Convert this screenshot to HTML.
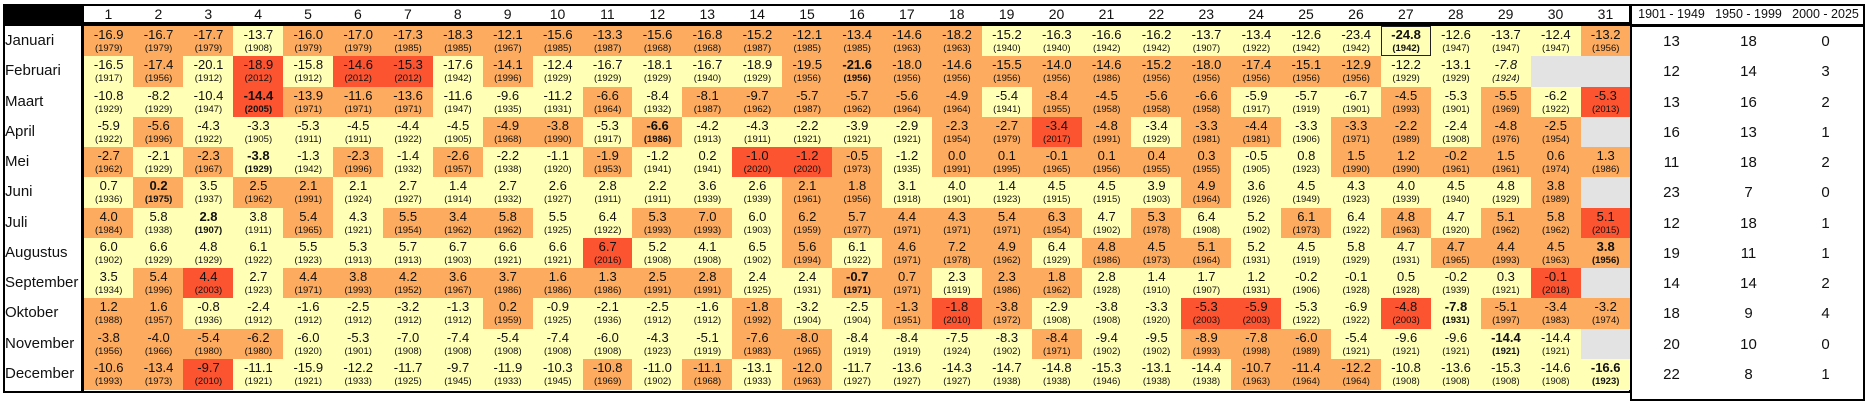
<!DOCTYPE html>
<html><head><meta charset="utf-8">
<style>
body{margin:0;width:1871px;height:408px;background:#fff;position:relative;overflow:hidden;font-family:"Liberation Sans",Arial,sans-serif;color:#111}
.c{position:absolute;box-sizing:border-box;text-align:center}
.v{position:absolute;left:0;right:0;top:2px;font-size:13px;line-height:14px}
.y{position:absolute;left:0;right:0;top:17px;font-size:9.5px;line-height:11px}
.lab{position:absolute;left:5px;font-size:15px}
.hd{position:absolute;top:5px;font-size:14px;text-align:center;line-height:18px;white-space:nowrap}
</style></head><body>
<div id="root"></div>
<script>
const months=["Januari","Februari","Maart","April","Mei","Juni","Juli","Augustus","September","Oktober","November","December"];
const values=[
[-16.9,-16.7,-17.7,-13.7,-16.0,-17.0,-17.3,-18.3,-12.1,-15.6,-13.3,-15.6,-16.8,-15.2,-12.1,-13.4,-14.6,-18.2,-15.2,-16.3,-16.6,-16.2,-13.7,-13.4,-12.6,-23.4,-24.8,-12.6,-13.7,-12.4,-13.2],
[-16.5,-17.4,-20.1,-18.9,-15.8,-14.6,-15.3,-17.6,-14.1,-12.4,-16.7,-18.1,-16.7,-18.9,-19.5,-21.6,-18.0,-14.6,-15.5,-14.0,-14.6,-15.2,-18.0,-17.4,-15.1,-12.9,-12.2,-13.1,-7.8,null,null],
[-10.8,-8.2,-10.4,-14.4,-13.9,-11.6,-13.6,-11.6,-9.6,-11.2,-6.6,-8.4,-8.1,-9.7,-5.7,-5.7,-5.6,-4.9,-5.4,-8.4,-4.5,-5.6,-6.6,-5.9,-5.7,-6.7,-4.5,-5.3,-5.5,-6.2,-5.3],
[-5.9,-5.6,-4.3,-3.3,-5.3,-4.5,-4.4,-4.5,-4.9,-3.8,-5.3,-6.6,-4.2,-4.3,-2.2,-3.9,-2.9,-2.3,-2.7,-3.4,-4.8,-3.4,-3.3,-4.4,-3.3,-3.3,-2.2,-2.4,-4.8,-2.5,null],
[-2.7,-2.1,-2.3,-3.8,-1.3,-2.3,-1.4,-2.6,-2.2,-1.1,-1.9,-1.2,0.2,-1.0,-1.2,-0.5,-1.2,0.0,0.1,-0.1,0.1,0.4,0.3,-0.5,0.8,1.5,1.2,-0.2,1.5,0.6,1.3],
[0.7,0.2,3.5,2.5,2.1,2.1,2.7,1.4,2.7,2.6,2.8,2.2,3.6,2.6,2.1,1.8,3.1,4.0,1.4,4.5,4.5,3.9,4.9,3.6,4.5,4.3,4.0,4.5,4.8,3.8,null],
[4.0,5.8,2.8,3.8,5.4,4.3,5.5,3.4,5.8,5.5,6.4,5.3,7.0,6.0,6.2,5.7,4.4,4.3,5.4,6.3,4.7,5.3,6.4,5.2,6.1,6.4,4.8,4.7,5.1,5.8,5.1],
[6.0,6.6,4.8,6.1,5.5,5.3,5.7,6.7,6.6,6.6,6.7,5.2,4.1,6.5,5.6,6.1,4.6,7.2,4.9,6.4,4.8,4.5,5.1,5.2,4.5,5.8,4.7,4.7,4.4,4.5,3.8],
[3.5,5.4,4.4,2.7,4.4,3.8,4.2,3.6,3.7,1.6,1.3,2.5,2.8,2.4,2.4,-0.7,0.7,2.3,2.3,1.8,2.8,1.4,1.7,1.2,-0.2,-0.1,0.5,-0.2,0.3,-0.1,null],
[1.2,1.6,-0.8,-2.4,-1.6,-2.5,-3.2,-1.3,0.2,-0.9,-2.1,-2.5,-1.6,-1.8,-3.2,-2.5,-1.3,-1.8,-3.8,-2.9,-3.8,-3.3,-5.3,-5.9,-5.3,-6.9,-4.8,-7.8,-5.1,-3.4,-3.2],
[-3.8,-4.0,-5.4,-6.2,-6.0,-5.3,-7.0,-7.4,-5.4,-7.4,-6.0,-4.3,-5.1,-7.6,-8.0,-8.4,-8.4,-7.5,-8.3,-8.4,-9.4,-9.5,-8.9,-7.8,-6.0,-5.4,-9.6,-9.6,-14.4,-14.4,null],
[-10.6,-13.4,-9.7,-11.1,-15.9,-12.2,-11.7,-9.7,-11.9,-10.3,-10.8,-11.0,-11.1,-13.1,-12.0,-11.7,-13.6,-14.3,-14.7,-14.8,-15.3,-13.1,-14.4,-10.7,-11.4,-12.2,-10.8,-13.6,-15.3,-14.6,-16.6]];
const years=[
[1979,1979,1979,1908,1979,1979,1985,1985,1967,1985,1987,1968,1968,1987,1985,1985,1963,1963,1940,1940,1942,1942,1907,1922,1942,1942,1942,1947,1947,1947,1956],
[1917,1956,1912,2012,1912,2012,2012,1942,1996,1929,1929,1929,1940,1929,1956,1956,1956,1956,1956,1956,1986,1956,1956,1956,1956,1956,1929,1929,1924,null,null],
[1929,1929,1947,2005,1971,1971,1971,1947,1935,1931,1964,1932,1987,1962,1987,1962,1964,1964,1941,1955,1958,1958,1958,1917,1919,1901,1993,1901,1969,1922,2013],
[1922,1996,1922,1905,1911,1911,1922,1905,1968,1990,1917,1986,1913,1911,1921,1921,1921,1954,1979,2017,1991,1929,1981,1981,1906,1971,1989,1908,1976,1954,null],
[1962,1929,1967,1929,1942,1996,1932,1957,1938,1920,1953,1941,1941,2020,2020,1973,1935,1991,1995,1965,1956,1955,1955,1905,1923,1990,1990,1961,1961,1974,1986],
[1936,1975,1937,1962,1991,1924,1927,1914,1932,1927,1911,1911,1939,1939,1961,1956,1918,1901,1923,1915,1915,1903,1964,1926,1949,1923,1939,1940,1929,1989,null],
[1984,1938,1907,1911,1965,1921,1954,1962,1962,1925,1922,1993,1993,1903,1959,1977,1971,1971,1971,1954,1902,1978,1908,1902,1973,1922,1963,1920,1962,1962,2015],
[1902,1929,1929,1922,1923,1913,1913,1903,1921,1921,2016,1908,1908,1902,1994,1922,1971,1978,1962,1929,1986,1973,1964,1931,1919,1929,1931,1965,1993,1963,1956],
[1934,1996,2003,1923,1971,1993,1952,1967,1986,1986,1986,1991,1991,1925,1931,1971,1971,1919,1986,1962,1928,1910,1907,1931,1906,1928,1928,1939,1921,2018,null],
[1988,1957,1936,1912,1912,1912,1912,1912,1959,1925,1936,1912,1912,1992,1904,1904,1951,2010,1972,1908,1908,1920,2003,2003,1922,1922,2003,1931,1997,1983,1974],
[1956,1966,1980,1980,1920,1901,1908,1908,1908,1908,1908,1923,1919,1983,1965,1919,1919,1924,1902,1971,1902,1902,1993,1998,1989,1921,1921,1921,1921,1921,null],
[1993,1973,2010,1921,1921,1933,1925,1945,1933,1945,1969,1902,1968,1933,1963,1927,1927,1927,1938,1938,1946,1938,1938,1963,1964,1964,1908,1908,1908,1908,1923]];
const periodLabels=["1901 - 1949","1950 - 1999","2000 - 2025"];
const count1901=[13,12,13,16,11,23,12,19,14,18,20,22];
const count1950=[18,14,16,13,18,7,18,11,14,9,10,8];
const count2000=[0,3,2,1,2,0,1,1,2,4,0,1];

const root=document.getElementById('root');
const X0=83.5,CW=49.9,Y0=26,RH=30.25;
function colX(d){return X0+d*CW}
function rowY(m){return Y0+m*RH}
function color(y){if(y==null)return'#E3E3E3';if(y>=2000)return'#FC5331';if(y>=1950)return'#FCAB5F';return'#FFFFB5'}
function mk(cls,css,txt){const e=document.createElement('div');e.className=cls;e.style.cssText=css;if(txt!=null)e.textContent=txt;root.appendChild(e);return e}
let e;
e=mk('c','left:3px;top:4px;width:1628px;height:389px;border:2px solid #000');

e=mk('c','left:3px;top:4px;width:81px;height:21px;background:#000');

e=mk('c','left:3px;top:22px;width:1628px;height:4px;background:#000');

e=mk('c','left:81px;top:4px;width:3px;height:389px;background:#000');

for(let d=0;d<31;d++){
  e=mk('hd','left:'+colX(d)+'px;width:'+CW+'px',String(d+1));
  
  
}
const minIdx=values.map(r=>{let bi=-1,bv=Infinity;r.forEach((v,i)=>{if(v!=null&&v<bv){bv=v;bi=i}});return bi;});
for(let m=0;m<12;m++){
  e=mk('lab','top:'+(rowY(m)+6)+'px',months[m]);
  
  
  for(let d=0;d<31;d++){
    const v=values[m][d],y=years[m][d];
    const cell=mk('c','left:'+colX(d)+'px;top:'+rowY(m)+'px;width:'+(CW+0.5)+'px;height:'+(RH+0.5)+'px;background:'+color(y));
    
    
    if(v==null)continue;
    const b=(d===minIdx[m])?'font-weight:bold;':'';
    const it=(m==1&&d==28)?'font-style:italic;':'';
    const a=document.createElement('div');a.className='v';a.style.cssText=b+it;a.textContent=v.toFixed(1);cell.appendChild(a);
    
    
    const c=document.createElement('div');c.className='y';c.style.cssText=b+it;c.textContent='('+y+')';cell.appendChild(c);
    
    
  }
}
e=mk('c','left:'+colX(26)+'px;top:'+rowY(0)+'px;width:'+CW+'px;height:'+RH+'px;border:1.5px solid #222');

e=mk('c','left:1630px;top:4px;width:235px;height:22px;border:2px solid #000');

e=mk('c','left:1630px;top:24px;width:235px;height:377px;border:2px solid #000;border-top-width:3px');

const PW=77;
for(let p=0;p<3;p++){
  e=mk('hd','left:'+(1633+p*PW)+'px;width:'+PW+'px;font-size:12.5px',periodLabels[p]);
  
  
}
const counts=[count1901,count1950,count2000];
for(let m=0;m<12;m++){for(let p=0;p<3;p++){
  e=mk('c','left:'+(1633+p*PW)+'px;top:'+(rowY(m)+7)+'px;width:'+PW+'px;font-size:15px',String(counts[p][m]));
  
  
}}
</script>
</body></html>
